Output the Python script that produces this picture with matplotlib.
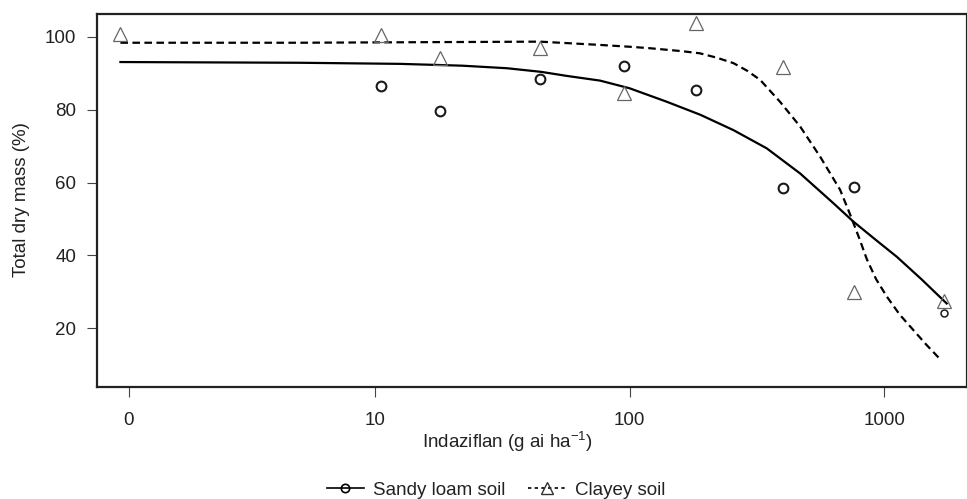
import numpy as np
import matplotlib
matplotlib.use('Agg')
from matplotlib import pyplot as plt
from matplotlib import font_manager
from matplotlib.lines import Line2D

# pick a narrow Helvetica-like face if there is one
names = {f.name for f in font_manager.fontManager.ttflist}
family = 'Liberation Sans Narrow' if 'Liberation Sans Narrow' in names else 'Liberation Sans'
plt.rcParams['font.family'] = [family, 'DejaVu Sans']
plt.rcParams['mathtext.fontset'] = 'custom'
plt.rcParams['mathtext.rm'] = family

# observed points (dose in g ai/ha, 0 = untreated)
sandy_dose = [10.6, 18, 44.6, 95, 183, 400, 760, 1720]
sandy_mass = [86.6, 79.7, 88.5, 92.1, 85.3, 58.6, 58.7, 24.1]
clay_dose = [0, 10.6, 18, 44.6, 95, 183, 400, 760, 1720]
clay_mass = [100.9, 100.5, 94.1, 97.0, 84.5, 103.9, 91.6, 30.0, 27.5]

# fitted curves
sandy_fit_dose = [0, 5.07, 12.5, 22, 33.0, 45, 56.6, 76.6, 100, 140, 190, 256, 346, 468,
                  633, 757, 930, 1123, 1400, 1762]
sandy_fit_mass = [93.1, 92.9, 92.6, 92.1, 91.4, 90.4, 89.3, 88.0, 85.9, 82.2, 78.6, 74.4, 69.4,
                  62.5, 54.3, 49.3, 44.2, 39.6, 33.5, 26.8]
clay_fit_dose = [0, 5.07, 44.5, 76.6, 100, 120, 160, 189, 220, 256, 290, 326, 390, 468, 561,
                 672, 735, 800, 855, 930, 1025, 1150, 1303, 1460, 1660]
clay_fit_mass = [98.4, 98.4, 98.7, 97.8, 97.3, 96.9, 96.1, 95.5, 94.3, 92.8, 90.7, 88.2, 82.2,
                 75.4, 67.1, 58.0, 51.3, 44.6, 39.0, 33.5, 28.7, 23.8, 19.5, 15.6, 11.5]

xticks = [0, 10, 100, 1000]
yticks = [20, 40, 60, 80, 100]

zero_pos = 1.0  # where dose 0 sits on the log axis


def pos(d):
    d = np.asarray(d, dtype=float)
    return np.where(d == 0, zero_pos, d)


fig = plt.figure(figsize=(9.67, 4.99), dpi=100)
ax = fig.add_axes([0.1003, 0.2244, 0.9, 0.7476])
ax.set_xscale('log')

dash = (0, (3.4, 2.0))
ax.plot(pos(sandy_fit_dose), sandy_fit_mass, color='black', lw=1.6)
ax.plot(pos(clay_fit_dose), clay_fit_mass, color='black', lw=1.6, linestyle=dash)

ax.plot(pos(sandy_dose[:-1]), sandy_mass[:-1], 'o', ms=7, mfc='none', mec='#1a1a1a', mew=1.5)
ax.plot(pos(sandy_dose[-1:]), sandy_mass[-1:], 'o', ms=5, mfc='none', mec='#1a1a1a', mew=1.1)
ax.plot(pos(clay_dose), clay_mass, '^', ms=10, mfc='none', mec='#666666', mew=0.9)

ax.set_xlim(0.809, 2123)
ax.set_ylim(3.85, 106.3)
ax.set_xticks(pos(xticks) * np.where(np.array(xticks) == 0, 1.08, 1.0))
ax.set_xticklabels([str(t) for t in xticks])
ax.xaxis.set_minor_locator(matplotlib.ticker.NullLocator())
ax.set_yticks(yticks)
ax.tick_params(axis='both', length=7, width=0.8, color='#444444', labelsize=13.5, labelcolor='#222222')
ax.tick_params(axis='y', pad=8)
ax.tick_params(axis='x', pad=11)
for s in ax.spines.values():
    s.set_linewidth(1.6)
    s.set_color('#222222')

fig.text(507 / 967, 1 - 442 / 499, 'Indaziflan (g ai ha$^{\\mathrm{-1}}$)', ha='center', va='center',
         fontsize=13.5, color='#222222')
fig.text(22 / 967, 1 - 200 / 499, 'Total dry mass (%)', ha='center', va='center', rotation=90,
         fontsize=13.5, color='#222222')

handles = [Line2D([], [], color='black', lw=1.2, marker='o', ms=6, mfc='none', mec='black', mew=1.2),
           Line2D([], [], color='black', lw=1.2, linestyle=(0, (2, 2)), marker='^', ms=8, mfc='none',
                  mec='#333333', mew=1.0)]
fig.legend(handles, ['Sandy loam soil', 'Clayey soil'], loc='center', ncol=2, frameon=False,
           bbox_to_anchor=(496 / 967, 1 - 490 / 499), fontsize=13.5, handlelength=2.0,
           handletextpad=0.5, columnspacing=1.2, labelcolor='#222222')

fig.savefig('out.png', dpi=100)
